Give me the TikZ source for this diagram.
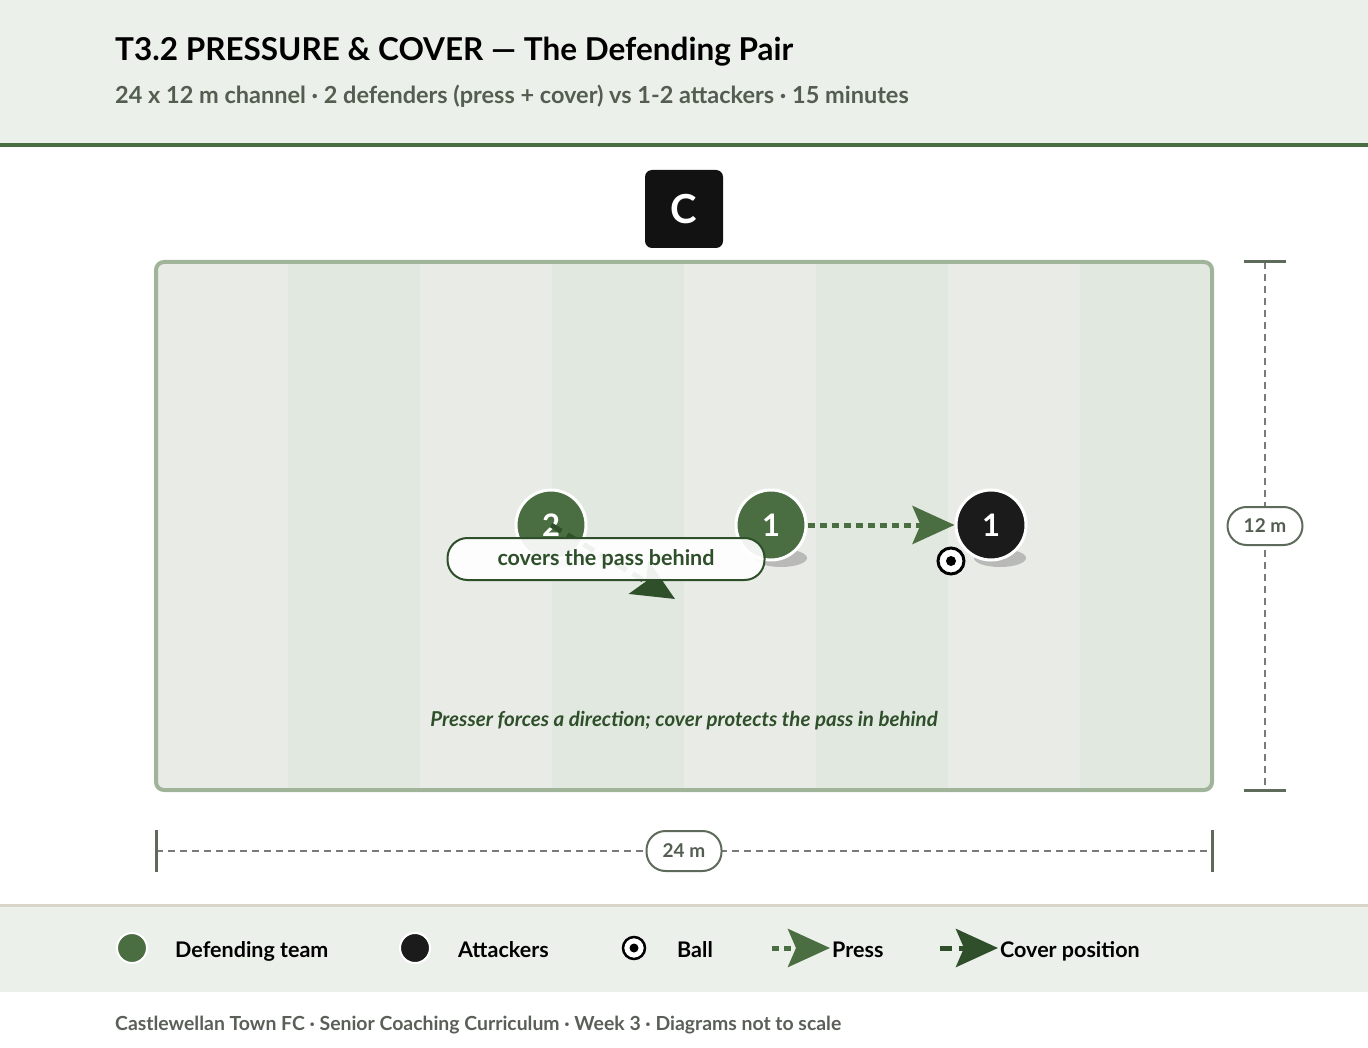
\documentclass[tikz,border=0pt]{standalone}
\usepackage{fontspec}
\setmainfont{Lato}
\usetikzlibrary{arrows.meta}

\definecolor{headbg}{HTML}{ECF0EB}
\definecolor{headgreen}{HTML}{4A6E41}
\definecolor{subgray}{HTML}{535E50}
\definecolor{pitchline}{HTML}{A0B49A}
\definecolor{stripelight}{HTML}{E9ECE6}
\definecolor{stripedark}{HTML}{E1E8DF}
\definecolor{dimgray}{HTML}{7A7A7A}
\definecolor{dimtick}{HTML}{5E6B5B}
\definecolor{defgreen}{HTML}{4A6E41}
\definecolor{covergreen}{HTML}{2E4F2A}
\definecolor{attblack}{HTML}{1B1B1B}
\definecolor{legendline}{HTML}{D9D5CA}
\definecolor{footgray}{HTML}{5A5F58}

\tikzset{
  defender/.style={circle, fill=defgreen, draw=white, line width=3, minimum size=70, inner sep=0, text=white, font=\bfseries\fontsize{31}{36}\selectfont},
  attacker/.style={defender, fill=attblack},
  ballnode/.style={circle, fill=white, draw=black, line width=3, minimum size=26, inner sep=0},
  pill/.style={draw=dimtick, line width=2, fill=white, rounded corners=19, minimum height=38, minimum width=75, text=subgray, font=\bfseries\fontsize{19}{23}\selectfont},
  dimline/.style={dimgray, line width=2, dash pattern=on 7 off 5},
  dimend/.style={dimtick, line width=3},
  presspath/.style={defgreen, line width=5, dash pattern=on 7 off 5, -{Stealth[length=42, width=38, inset=8]}},
  coverpath/.style={covergreen, line width=5, dash pattern=on 12 off 7, -{Stealth[length=42, width=38, inset=8]}},
  keytext/.style={anchor=base west, inner sep=0, font=\bfseries\fontsize{21.5}{26}\selectfont},
  shadow/.style={fill=black!40, opacity=0.6}
}

\begin{document}
\begin{tikzpicture}[x=1pt, y=-1pt]
    \useasboundingbox (0,0) rectangle (1368,1048);

    \fill[headbg] (0,0) rectangle (1368,143);
    \fill[headgreen] (0,143) rectangle (1368,147);
    \node[anchor=base west, inner sep=0, font=\bfseries\fontsize{31.5}{36}\selectfont] (title) at (115,61) {T3.2 PRESSURE \& COVER — The Defending Pair};
    \node[anchor=base west, inner sep=0, text=subgray, font=\bfseries\fontsize{23.5}{28}\selectfont] (subtitle) at (115,104) {24 x 12 m channel · 2 defenders (press + cover) vs 1-2 attackers · 15 minutes};

    \node[fill=black!93, rounded corners=7, minimum size=78, text=white, font=\bfseries\fontsize{40}{48}\selectfont] (zone) at (684,209) {C};

    \begin{scope}
        \clip[rounded corners=8] (156,262) rectangle (1212,790);
        \foreach \i in {0,2,4,6} \fill[stripelight] ({156+132*\i},262) rectangle +(132,528);
        \foreach \i in {1,3,5,7} \fill[stripedark] ({156+132*\i},262) rectangle +(132,528);
    \end{scope}
    \draw[pitchline, line width=4, rounded corners=8] (156,262) rectangle (1212,790);

    \coordinate (vtop) at (1265,262);
    \coordinate (vbot) at (1265,790);
    \draw[dimline] (vtop) -- (vbot);
    \draw[dimend] (1244,262) -- (1286,262);
    \draw[dimend] (1244,790) -- (1286,790);
    \node[pill] (vlabel) at (1265,526) {12 m};

    \coordinate (hleft) at (156,851);
    \coordinate (hright) at (1212,851);
    \draw[dimline] (hleft) -- (hright);
    \draw[dimend] (156,830) -- (156,872);
    \draw[dimend] (1212,830) -- (1212,872);
    \node[pill, minimum height=40] (hlabel) at (684,851) {24 m};

    \fill[shadow] (563,558) ellipse (26 and 9);
    \fill[shadow] (781,558) ellipse (26 and 9);
    \fill[shadow] (1000,558) ellipse (26 and 9);

    \node[defender] (cover) at (551,525) {2};
    \node[defender] (press) at (771,525) {1};
    \node[attacker] (att) at (991,525) {1};
    \node[ballnode] (ball) at (951,561) {};
    \fill[black] (ball.center) circle (5);

    \coordinate (coverend) at (675,599);
    \draw[coverpath] (cover.center) -- (coverend);
    \node[draw=covergreen, line width=2, fill=white, fill opacity=0.92, text opacity=1, rounded corners=20, minimum width=317, minimum height=42, text=covergreen, font=\bfseries\fontsize{21.5}{26}\selectfont] (tag) at (606,559) {covers the pass behind};

    \draw[presspath] (press.east) -- (att.west);

    \node[text=covergreen, font=\bfseries\itshape\fontsize{20.5}{24}\selectfont] (note) at (684,721) {Presser forces a direction; cover protects the pass in behind};

    \fill[headbg] (0,905) rectangle (1368,992);
    \draw[legendline, line width=3] (0,905) -- (1368,905);

    \node[defender, minimum size=30, line width=2] (keydef) at (132,948) {};
    \node[keytext] (keydeftext) at (175,957) {Defending team};
    \node[attacker, minimum size=30, line width=2] (keyatt) at (415,948) {};
    \node[keytext] (keyatttext) at (458,957) {Attackers};
    \node[ballnode, minimum size=22, line width=2.5] (keyball) at (634,948) {};
    \fill[black] (keyball.center) circle (4.5);
    \node[keytext] (keyballtext) at (677,957) {Ball};
    \coordinate (keypressA) at (772,948);
    \coordinate (keypressB) at (830,948);
    \draw[presspath] (keypressA) -- (keypressB);
    \node[keytext] (keypresstext) at (832,957) {Press};
    \coordinate (keycoverA) at (940,948);
    \coordinate (keycoverB) at (998,948);
    \draw[coverpath] (keycoverA) -- (keycoverB);
    \node[keytext] (keycovertext) at (1000,957) {Cover position};

    \node[anchor=base west, inner sep=0, text=footgray, font=\bfseries\fontsize{19.4}{23}\selectfont] (footer) at (115,1030) {Castlewellan Town FC · Senior Coaching Curriculum · Week 3 · Diagrams not to scale};
\end{tikzpicture}
\end{document}
